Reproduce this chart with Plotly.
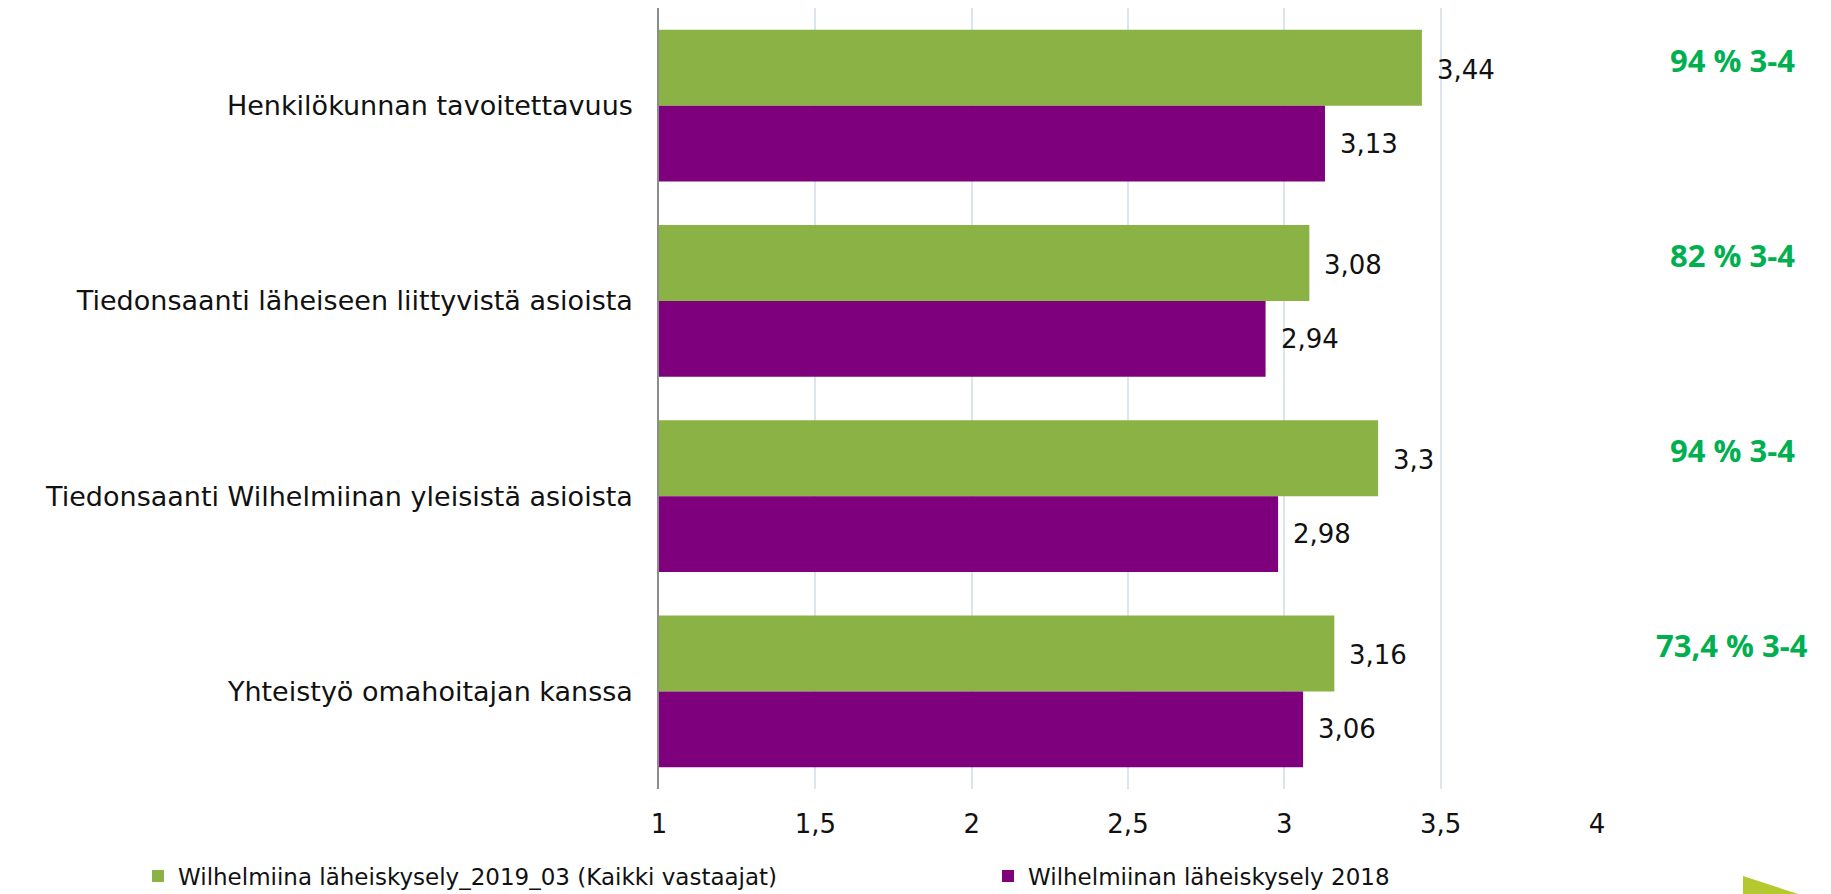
import plotly.graph_objects as go

# ---------------- data ----------------
categories = [
    "Henkilökunnan tavoitettavuus",
    "Tiedonsaanti läheiseen liittyvistä asioista",
    "Tiedonsaanti Wilhelmiinan yleisistä asioista",
    "Yhteistyö omahoitajan kanssa",
]
series_2019_name = "Wilhelmiina läheiskysely_2019_03 (Kaikki vastaajat)"
series_2019 = [3.44, 3.08, 3.30, 3.16]
series_2018_name = "Wilhelmiinan läheiskysely 2018"
series_2018 = [3.13, 2.94, 2.98, 3.06]
share_labels = ["94 % 3-4", "82 % 3-4", "94 % 3-4", "73,4 % 3-4"]
x_ticks = [1, 1.5, 2, 2.5, 3, 3.5, 4]

# ---------------- styles ----------------
GREEN = "#8BB244"
PURPLE = "#7F007D"
LABEL_FONT = "DejaVu Sans, Liberation Sans, Arial, sans-serif"
OFF = 8                       # page body margin of the html page
W, H = 1831 - OFF, 894 - OFF
M_L, M_R, M_T, M_B = 651, 234, 0, 105
PW = W - M_L - M_R
PH = H - M_T - M_B


def px(x_abs):
    return (x_abs - OFF - M_L) / PW


def py(y_abs):
    return (H - M_B - (y_abs - OFF)) / PH


def fmt(v):
    s = f"{v:.2f}".rstrip("0").rstrip(".")
    return s.replace(".", ",")


fig = go.Figure()
fig.add_trace(go.Bar(
    y=categories, x=series_2019, orientation="h", name=series_2019_name,
    marker=dict(color=GREEN, line=dict(width=0)), legend="legend",
))
fig.add_trace(go.Bar(
    y=categories, x=series_2018, orientation="h", name=series_2018_name,
    marker=dict(color=PURPLE, line=dict(width=0)), legend="legend2",
))

annotations = []
for cat, v19, v18, share in zip(categories, series_2019, series_2018, share_labels):
    annotations.append(dict(
        x=v19, y=cat, xref="x", yref="y", text=fmt(v19), showarrow=False,
        xanchor="left", yanchor="middle", xshift=13, yshift=36,
        font=dict(family=LABEL_FONT, size=26, color="#111111"),
    ))
    annotations.append(dict(
        x=v18, y=cat, xref="x", yref="y", text=fmt(v18), showarrow=False,
        xanchor="left", yanchor="middle", xshift=13, yshift=-38,
        font=dict(family=LABEL_FONT, size=26, color="#111111"),
    ))
    annotations.append(dict(
        x=px(1732), y=cat, xref="paper", yref="y", text="<b>" + share + "</b>",
        showarrow=False, xanchor="center", yanchor="middle", yshift=46,
        font=dict(family="Open Sans, Lato, sans-serif", size=31, color="#00B050"),
    ))

# decorative triangle in the bottom-right corner
tri = f"M {px(1743)} {py(876)} L {px(1815)} {py(899.5)} L {px(1743)} {py(923)} Z"

legend_common = dict(
    orientation="h", yanchor="middle", xanchor="left",
    font=dict(family=LABEL_FONT, size=23, color="#111111"),
    bgcolor="rgba(0,0,0,0)", borderwidth=0,
)

fig.update_layout(
    width=W, height=H,
    margin=dict(l=M_L, r=M_R, t=M_T, b=M_B, pad=0, autoexpand=False),
    paper_bgcolor="white", plot_bgcolor="white",
    separators=", ",
    barmode="group", bargap=0.2225, bargroupgap=0,
    font=dict(family=LABEL_FONT, size=26, color="#111111"),
    xaxis=dict(
        range=[1, 4], tickvals=x_ticks, showgrid=True, gridcolor="#DCE4EE",
        gridwidth=1.5, zeroline=False, showline=False, ticks="",
        tickfont=dict(family=LABEL_FONT, size=26, color="#111111"),
        ticklabelstandoff=17, fixedrange=True, automargin=False,
    ),
    yaxis=dict(
        autorange="reversed", showline=True, linecolor="#8C8C8C", linewidth=1.5,
        showgrid=False, ticks="", ticklabelstandoff=19,
        tickfont=dict(family=LABEL_FONT, size=27, color="#111111"),
        fixedrange=True, automargin=False,
    ),
    legend=dict(x=px(138), y=py(876), **legend_common),
    legend2=dict(x=px(988), y=py(876), **legend_common),
    annotations=annotations,
    shapes=[dict(type="path", xref="paper", yref="paper", path=tri,
                 fillcolor="#B5C92F", line=dict(width=0), layer="above")],
    showlegend=True,
)

fig.write_html("out.html")
